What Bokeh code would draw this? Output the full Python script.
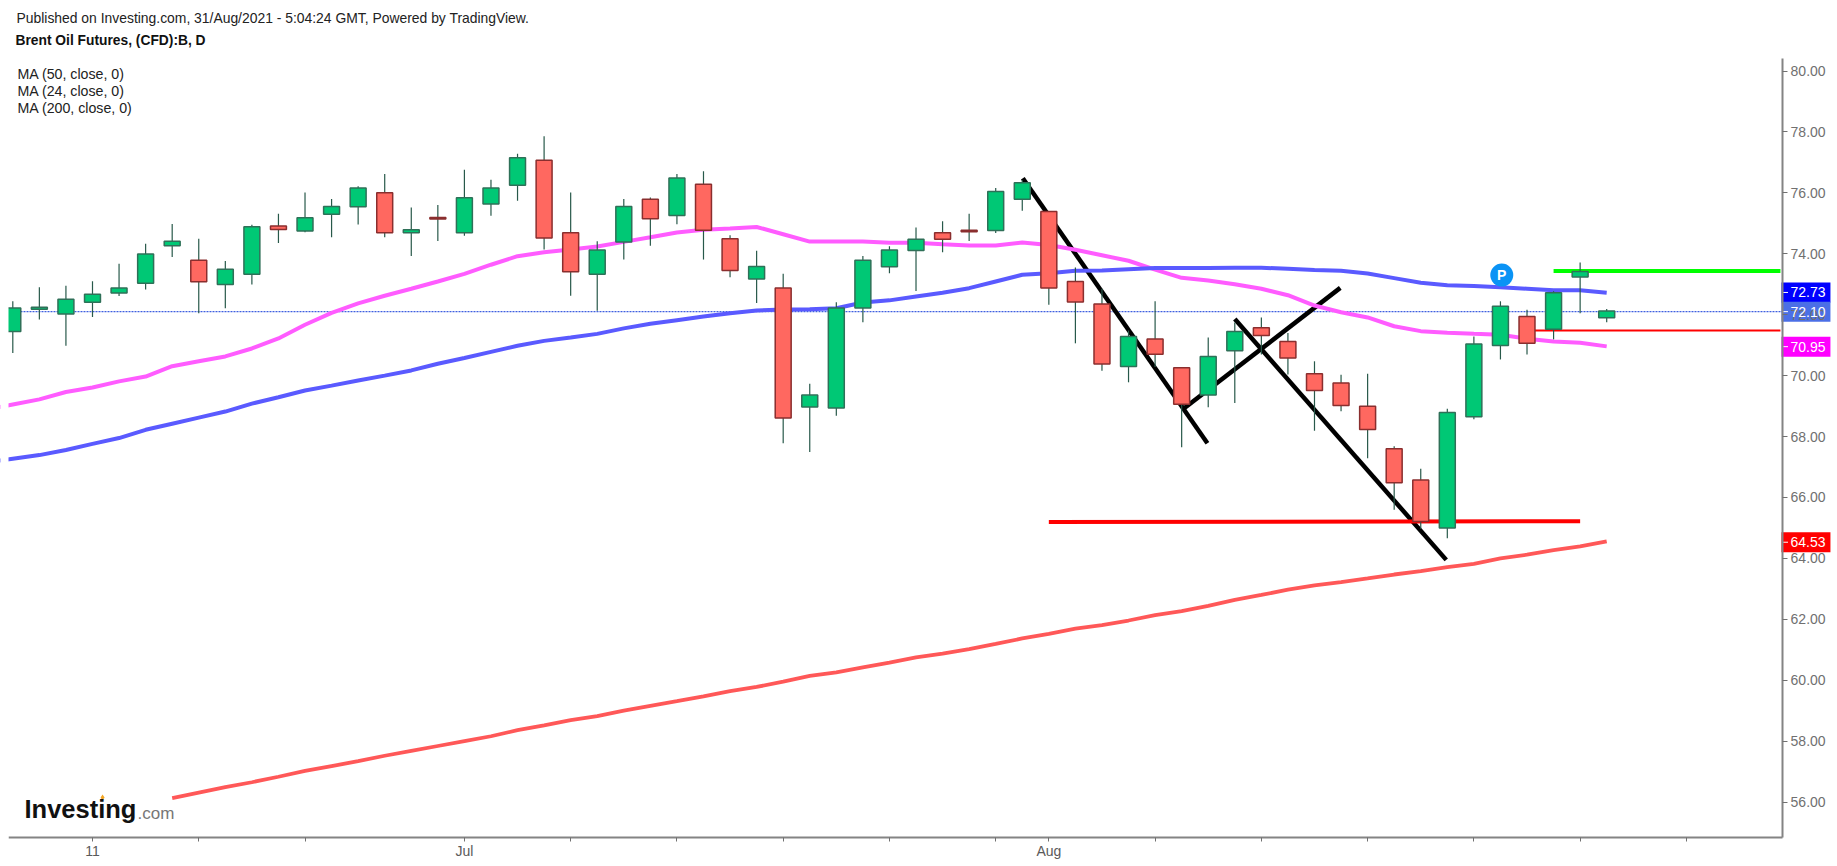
from bokeh.plotting import figure
from bokeh.models import Label, FixedTicker, NumeralTickFormatter, ColumnDataSource, BoxAnnotation
from bokeh.embed import file_html
from bokeh.resources import INLINE

# ---- data ----
opens = [71.45,72.18,72.02,72.41,72.71,73.03,74.26,73.79,72.99,73.33,74.91,74.75,75.30,75.54,76.00,74.69,75.19,74.69,75.63,76.25,
         77.07,74.69,73.33,74.39,75.79,75.26,76.28,74.49,73.17,72.88,68.97,68.94,72.22,73.57,74.11,74.69,74.77,74.76,75.79,75.39,
         73.09,72.35,70.30,71.20,70.26,69.36,70.82,71.57,71.12,70.06,69.76,68.99,67.60,66.57,65.00,68.65,70.99,71.94,71.52,73.24,71.90]
highs = [72.44,72.90,72.95,73.10,73.67,74.33,74.98,74.49,73.76,74.95,75.31,76.01,75.80,76.22,76.62,75.52,75.60,76.76,76.43,77.28,
         77.86,76.01,74.41,75.80,75.85,76.62,76.71,74.61,74.10,73.34,69.73,72.41,73.93,74.25,74.86,75.07,75.31,76.16,76.41,75.40,
         73.55,72.85,71.48,72.44,70.26,71.25,71.74,71.91,71.40,70.47,70.03,70.06,67.68,66.94,68.91,71.28,72.44,72.16,72.77,73.71,72.19]
lows = [70.74,71.84,70.98,71.92,72.61,72.83,73.89,72.05,72.21,72.99,74.35,74.71,74.54,74.96,74.54,73.93,74.42,74.59,75.25,75.74,
        74.14,72.62,72.13,73.81,74.26,74.97,73.81,73.23,72.38,67.78,67.49,68.68,71.75,73.36,72.78,74.05,74.42,74.68,75.41,72.33,
        71.06,70.16,69.78,70.28,67.65,68.96,69.10,70.69,70.04,68.19,68.83,67.29,65.60,64.97,64.66,68.57,70.53,70.69,71.19,72.05,71.75]
closes = [72.22,72.24,72.51,72.67,72.88,73.99,74.41,73.08,73.49,74.89,74.80,75.18,75.55,76.16,74.69,74.79,75.14,75.84,76.16,77.15,
          74.52,73.41,74.12,75.55,75.15,76.49,74.77,73.45,73.58,68.61,69.36,72.22,73.79,74.12,74.48,74.48,74.72,76.04,76.33,72.88,
          72.42,70.38,71.28,70.70,69.06,70.63,71.45,71.32,70.58,69.51,69.02,68.23,66.48,65.21,68.79,71.04,72.28,71.06,72.72,73.42,72.12]

# moving averages start one bar left of the visible pane
ma_start = -1
ma24 = [68.88,69.05,69.22,69.46,69.61,69.81,69.97,70.31,70.47,70.63,70.89,71.22,71.67,72.06,72.37,72.62,72.85,73.09,73.34,73.64,73.92,
        74.05,74.14,74.24,74.39,74.54,74.70,74.79,74.83,74.88,74.64,74.40,74.40,74.40,74.36,74.36,74.31,74.27,74.27,74.37,74.29,
        74.13,73.95,73.77,73.48,73.21,73.12,73.00,72.85,72.64,72.30,72.08,71.91,71.62,71.46,71.41,71.37,71.34,71.21,71.12,71.08,70.96]
ma50 = [67.15,67.27,67.39,67.56,67.76,67.95,68.22,68.42,68.62,68.82,69.08,69.29,69.51,69.67,69.84,70.00,70.17,70.39,70.58,70.78,70.98,
        71.14,71.25,71.37,71.55,71.70,71.82,71.94,72.05,72.14,72.17,72.18,72.21,72.40,72.47,72.60,72.72,72.87,73.09,73.31,73.36,
        73.44,73.45,73.49,73.53,73.53,73.53,73.54,73.54,73.51,73.47,73.44,73.35,73.20,73.05,72.97,72.94,72.90,72.85,72.80,72.80,72.72]
ma200_start = 6
ma200 = [56.13,56.31,56.49,56.65,56.83,57.02,57.18,57.34,57.52,57.68,57.84,58.00,58.16,58.36,58.52,58.69,58.82,
         59.00,59.16,59.31,59.47,59.64,59.78,59.95,60.14,60.26,60.42,60.58,60.75,60.87,61.02,61.19,61.37,61.52,61.69,
         61.81,61.96,62.14,62.27,62.44,62.64,62.80,62.97,63.11,63.22,63.34,63.47,63.58,63.71,63.82,64.00,64.12,64.27,64.39,64.56]

trend_a_x, trend_a_y = [38.02, 44.97], [76.48, 67.78]
trend_b_x, trend_b_y = [44.07, 49.97], [68.91, 72.88]
trend_c_x, trend_c_y = [46.0, 53.96], [71.86, 63.95]
support_x, support_y = [39.0, 59.0], [65.19, 65.22]
entry_x, entry_y = [57.0, 66.54], [71.48, 71.48]
target_x, target_y = [58.0, 66.54], [73.43, 73.43]
pin_x, pin_y = 56.05, 73.30

y_ticks = [56, 58, 60, 62, 64, 66, 68, 70, 72, 74, 76, 78, 80]
x_ticks = [3, 7, 11, 17, 21, 25, 29, 33, 37, 39, 43, 47, 51, 55, 59, 63]
x_labels = {3: "11", 17: "Jul", 39: "Aug"}
last_price = 72.10
tag_values = [72.73, 72.10, 70.95, 64.53]
tag_texts = ["72.73", "72.10", "70.95", "64.53"]
tag_colors = ["#0000ff", "#4b6fe6", "#ff00ff", "#ff0000"]

# visible chart pane, in chart units
pane_left, pane_right = -0.162, 66.62
pane_bottom, pane_top = 54.84, 80.42

FONT = "Liberation Sans"
W, H = 1837, 866

p = figure(width=W, height=H, output_backend="svg", toolbar_location=None,
           x_range=(-0.463, 68.688), y_range=(53.884, 82.3145),
           min_border_left=0, min_border_right=0, min_border_top=0, min_border_bottom=0,
           x_axis_location="below", y_axis_location="right")
p.outline_line_color = None
p.background_fill_color = "white"
p.grid.visible = False

# price tags first, so that the axis and its ticks lie over them
tag_mid = 67.5
p.rect(x=[tag_mid] * 4, y=tag_values, width=49, height=20, width_units="screen", height_units="screen",
       fill_color=tag_colors, line_color=None)
p.rect(x=[pane_right + 0.11] * 4, y=tag_values, width=5, height=1, width_units="screen", height_units="screen",
       fill_color="white", line_color=None)

ax = p.xaxis[0]
ax.fixed_location = pane_bottom
ax.bounds = (pane_left, pane_right)
ax.ticker = FixedTicker(ticks=x_ticks)
ax.major_label_overrides = {t: x_labels.get(t, "") for t in x_ticks}
ax.axis_line_color = "#848484"; ax.axis_line_width = 2
ax.major_tick_line_color = "#707070"; ax.major_tick_out = 4; ax.major_tick_in = 0
ax.minor_tick_line_color = None
ax.major_label_text_font = FONT; ax.major_label_text_font_size = "14px"
ax.major_label_text_color = "#5a5a5a"; ax.major_label_standoff = 2

ay = p.yaxis[0]
ay.fixed_location = pane_right
ay.bounds = (pane_bottom, pane_top)
ay.ticker = FixedTicker(ticks=y_ticks)
ay.formatter = NumeralTickFormatter(format="0.00")
ay.axis_line_color = "#848484"; ay.axis_line_width = 2
ay.major_tick_line_color = "#707070"; ay.major_tick_out = 5; ay.major_tick_in = 0
ay.minor_tick_line_color = None
ay.major_label_text_font = FONT; ay.major_label_text_font_size = "14px"
ay.major_label_text_color = "#707070"; ay.major_label_standoff = 3

p.line([pane_left, pane_right], [last_price, last_price], line_color="#3f5fe0", line_width=1.2, line_dash="2 1")

# drawn lines and moving averages sit below the candles
p.line(trend_a_x, trend_a_y, line_color="black", line_width=4.5)
p.line(trend_b_x, trend_b_y, line_color="black", line_width=4.5)
p.line(trend_c_x, trend_c_y, line_color="black", line_width=4.5)
p.line(support_x, support_y, line_color="#ff0000", line_width=4)
p.line(entry_x, entry_y, line_color="#ff0000", line_width=2)
p.line(target_x, target_y, line_color="#00ff00", line_width=4)

idx = list(range(len(closes)))
ma_idx = [ma_start + k for k in range(len(ma24))]
p.line(ma_idx, ma24, line_color="#ff5cff", line_width=4)
p.line(ma_idx, ma50, line_color="#5a5aff", line_width=4)
p.line(idx[ma200_start:], ma200, line_color="#ff5858", line_width=3.8)

up = [c >= o for o, c in zip(opens, closes)]
src = ColumnDataSource(dict(
    x=idx, o=opens, h=highs, l=lows, c=closes,
    top=[max(o, c) for o, c in zip(opens, closes)],
    bot=[min(o, c) for o, c in zip(opens, closes)],
    fill=["#00c875" if u else "#ff6860" for u in up],
    edge=["#2f7058" if u else "#8a2e2e" for u in up],
))
p.segment("x", "h", "x", "l", source=src, line_color="#28594a", line_width=1.2)
p.vbar(x="x", top="top", bottom="bot", width=0.6, source=src, fill_color="fill", line_color="edge", line_width=1.5)

# the pane hides whatever lies left of its edge (first candle is cut)
p.add_layout(BoxAnnotation(right=pane_left, fill_color="white", fill_alpha=1, line_color=None, level="overlay"))

# pin marker
p.scatter([pin_x], [pin_y], size=23, marker="circle", fill_color="#0a93f5", line_color=None)
p.add_layout(Label(x=pin_x, y=pin_y, text="P", text_color="white", text_font=FONT, text_font_size="14px",
                   text_font_style="bold", text_align="center", text_baseline="middle"))

def page_text(x, y, text, size="14.2px", color="#222222", style="normal", align="left"):
    # x, y are page pixels of the text's left/middle point
    p.add_layout(Label(x=x, y=H - y, x_units="screen", y_units="screen", text=text,
                       text_font=FONT, text_font_size=size, text_color=color, text_font_style=style,
                       text_align=align, text_baseline="middle"))

page_text(16, 17, "Published on Investing.com, 31/Aug/2021 - 5:04:24 GMT, Powered by TradingView.", size="13.9px")
page_text(15, 39.5, "Brent Oil Futures, (CFD):B, D", size="13.8px", style="bold", color="#111111")
page_text(17, 73, "MA (50, close, 0)")
page_text(17, 90, "MA (24, close, 0)")
page_text(17, 107, "MA (200, close, 0)")

# logo text
page_text(24, 808, "Investing", size="25.5px", color="#111111", style="bold")
page_text(137, 813, ".com", size="17px", color="#777777")
p.scatter([3.38], [56.15], size=6, marker="diamond", fill_color="#f5a623", line_color=None)

# price tag texts
for val, txt in zip(tag_values, tag_texts):
    p.add_layout(Label(x=1790, y=val, x_units="screen", y_units="data", text=txt,
                       text_font=FONT, text_font_size="14px", text_color="white",
                       text_baseline="middle", text_align="left"))

open("out.html", "w").write(file_html(p, INLINE))
